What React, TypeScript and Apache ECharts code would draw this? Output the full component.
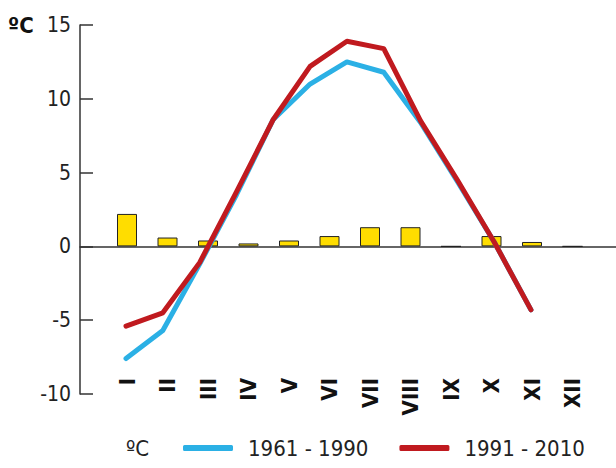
import React, { useEffect, useRef } from "react";
import * as echarts from "echarts";

const months = ["I", "II", "III", "IV", "V", "VI", "VII", "VIII", "IX", "X", "XI", "XII"];
const barValues = [2.2, 0.6, 0.4, 0.2, 0.4, 0.7, 1.3, 1.3, 0, 0.7, 0.3, 0];
const series1961 = [-7.6, -5.7, -1.2, 3.5, 8.6, 11.0, 12.5, 11.8, 8.4, 4.4, 0.3, -4.3];
const series1991 = [-5.4, -4.5, -1.1, 3.7, 8.6, 12.2, 13.9, 13.4, 8.5, 4.5, 0.3, -4.3];
const yTicks = { min: -10, max: 15, interval: 5 };
const legendNames = ["1961 - 1990", "1991 - 2010"];

const FONT = "'DejaVu Sans Condensed', 'Roboto', sans-serif";
const BLUE = "#2BB0E5";
const RED = "#C01A1F";

export default function App() {
  const ref = useRef<HTMLDivElement>(null);
  useEffect(() => {
    if (!ref.current) return;
    const chart = echarts.init(ref.current, null, { renderer: "svg" });
    const top = 25;
    const bottom = 74;
    const hiddenY = (gridIndex: number) => ({
      type: "value",
      gridIndex,
      min: yTicks.min,
      max: yTicks.max,
      interval: yTicks.interval,
      show: false,
    });
    chart.setOption({
      animation: false,
      backgroundColor: "#ffffff",
      textStyle: { fontFamily: FONT },
      grid: [
        { left: 80, right: 0, top, bottom },
        { left: 106.75, right: 23.25, top, bottom },
        { left: 126, right: 85, top, bottom },
      ],
      xAxis: [
        {
          type: "value",
          gridIndex: 0,
          min: 0,
          max: 1,
          axisLine: { show: true, onZero: true, lineStyle: { color: "#333", width: 1.5 } },
          axisTick: { show: false },
          axisLabel: { show: false },
          splitLine: { show: false },
        },
        {
          type: "category",
          gridIndex: 1,
          data: months,
          boundaryGap: true,
          axisLine: { show: false, onZero: false },
          axisTick: { show: false },
          axisLabel: {
            rotate: 90,
            margin: -16,
            fontFamily: FONT,
            fontWeight: "bold",
            fontSize: 22,
            color: "#111",
            interval: 0,
          },
        },
        {
          type: "category",
          gridIndex: 2,
          data: months,
          boundaryGap: false,
          show: false,
        },
      ],
      yAxis: [
        {
          type: "value",
          gridIndex: 0,
          min: yTicks.min,
          max: yTicks.max,
          interval: yTicks.interval,
          axisLine: { show: true, onZero: false, lineStyle: { color: "#333", width: 1.5 } },
          axisTick: { show: true, inside: true, length: 13, lineStyle: { color: "#333", width: 1.5 } },
          axisLabel: { fontFamily: FONT, fontSize: 21, color: "#222", margin: 9 },
          splitLine: { show: false },
        },
        hiddenY(1),
        hiddenY(2),
      ],
      legend: {
        left: 183,
        top: 437,
        padding: 0,
        itemWidth: 50,
        itemHeight: 6,
        itemGap: 31,
        textStyle: { fontFamily: FONT, fontSize: 22, color: "#222", padding: [0, 0, 0, 10] },
        data: [
          { name: legendNames[0], icon: "roundRect" },
          { name: legendNames[1], icon: "roundRect" },
        ],
      },
      graphic: [
        {
          type: "text",
          left: 8,
          top: 14,
          style: { text: "ºC", font: `bold 22px ${FONT}`, fill: "#111" },
        },
        {
          type: "text",
          left: 126,
          top: 437,
          style: { text: "ºC", font: `22px ${FONT}`, fill: "#222" },
        },
      ],
      series: [
        {
          type: "bar",
          xAxisIndex: 1,
          yAxisIndex: 1,
          data: barValues,
          barWidth: 20,
          itemStyle: { color: "#FFDD00", borderColor: "#222", borderWidth: 1 },
          silent: true,
        },
        {
          name: legendNames[0],
          type: "line",
          xAxisIndex: 2,
          yAxisIndex: 2,
          data: series1961,
          symbol: "none",
          color: BLUE,
          lineStyle: { color: BLUE, width: 5, cap: "round", join: "round" },
        },
        {
          name: legendNames[1],
          type: "line",
          xAxisIndex: 2,
          yAxisIndex: 2,
          data: series1991,
          symbol: "none",
          color: RED,
          lineStyle: { color: RED, width: 5, cap: "round", join: "round" },
        },
      ],
    });
    return () => chart.dispose();
  }, []);
  return <div ref={ref} style={{ width: 616, height: 468, position: "absolute", left: 0, top: 0 }} />;
}
